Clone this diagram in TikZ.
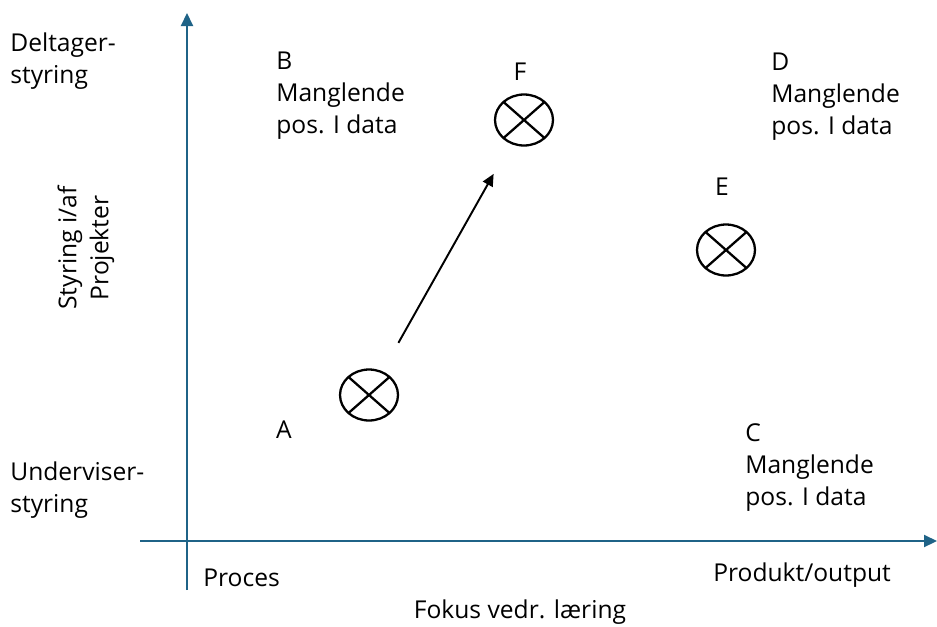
\documentclass[tikz,border=0pt]{standalone}
\usepackage{fontspec}
\setmainfont{Open Sans}
\usetikzlibrary{arrows.meta, positioning, shapes.geometric}

\begin{document}
\begin{tikzpicture}[x=0.02cm, y=-0.02cm,
    axis/.style={-{Triangle[length=2.6mm, width=2.4mm]}, line width=1.2pt, draw=axiscolor},
    marker/.style={ellipse, draw, line width=1.3pt, minimum width=1.16cm, minimum height=1.02cm, inner sep=0pt,
        path picture={\draw[line width=1.3pt] (path picture bounding box.north east) -- (path picture bounding box.south west)
                       (path picture bounding box.north west) -- (path picture bounding box.south east);}},
    lbl/.style={inner sep=0pt, align=left, font=\fontsize{14}{18.2}\selectfont},
    arrow/.style={-{Triangle[length=2.4mm, width=2.2mm]}, line width=1.1pt}]

    % Define colors
    \definecolor{axiscolor}{RGB}{31,99,135}

    \useasboundingbox (0,0) rectangle (937,626);

    % Axes
    \coordinate (ybot) at (187,590);
    \coordinate (ytop) at (187,13);
    \coordinate (xleft) at (140,541);
    \coordinate (xright) at (937,541);
    \draw[axis] (ybot) -- (ytop);
    \draw[axis] (xleft) -- (xright);

    % Axis texts
    \node[lbl, anchor=west] (deltager) at (10,61) {Deltager-\\styring};
    \node[lbl, anchor=west] (underviser) at (10,490) {Underviser-\\styring};
    \node[lbl, align=center, rotate=90] (styring) at (86,248) {Styring i/af\\Projekter};
    \node[lbl, anchor=west] (proces) at (203,578) {Proces};
    \node[lbl, anchor=west] (produkt) at (713,575) {Produkt/output};
    \node[lbl] (fokus) at (520,612) {Fokus vedr. læring};

    % Quadrant texts
    \node[lbl, anchor=west] (qb) at (276,96) {B\\Manglende\\pos. I data};
    \node[lbl, anchor=west] (qd) at (771,97) {D\\Manglende\\pos. I data};
    \node[lbl, anchor=west] (qc) at (745,468) {C\\Manglende\\pos. I data};
    \node[lbl] (qa) at (284,430) {A};
    \node[lbl] (qe) at (722,187) {E};
    \node[lbl] (qf) at (520,72) {F};

    % Positions
    \node[marker] (pa) at (369,395) {};
    \node[marker] (pf) at (524,120) {};
    \node[marker] (pe) at (726,250) {};

    % Movement A -> F
    \draw[arrow, shorten <=0.65cm, shorten >=0.69cm] (pa) -- (pf);

\end{tikzpicture}
\end{document}
